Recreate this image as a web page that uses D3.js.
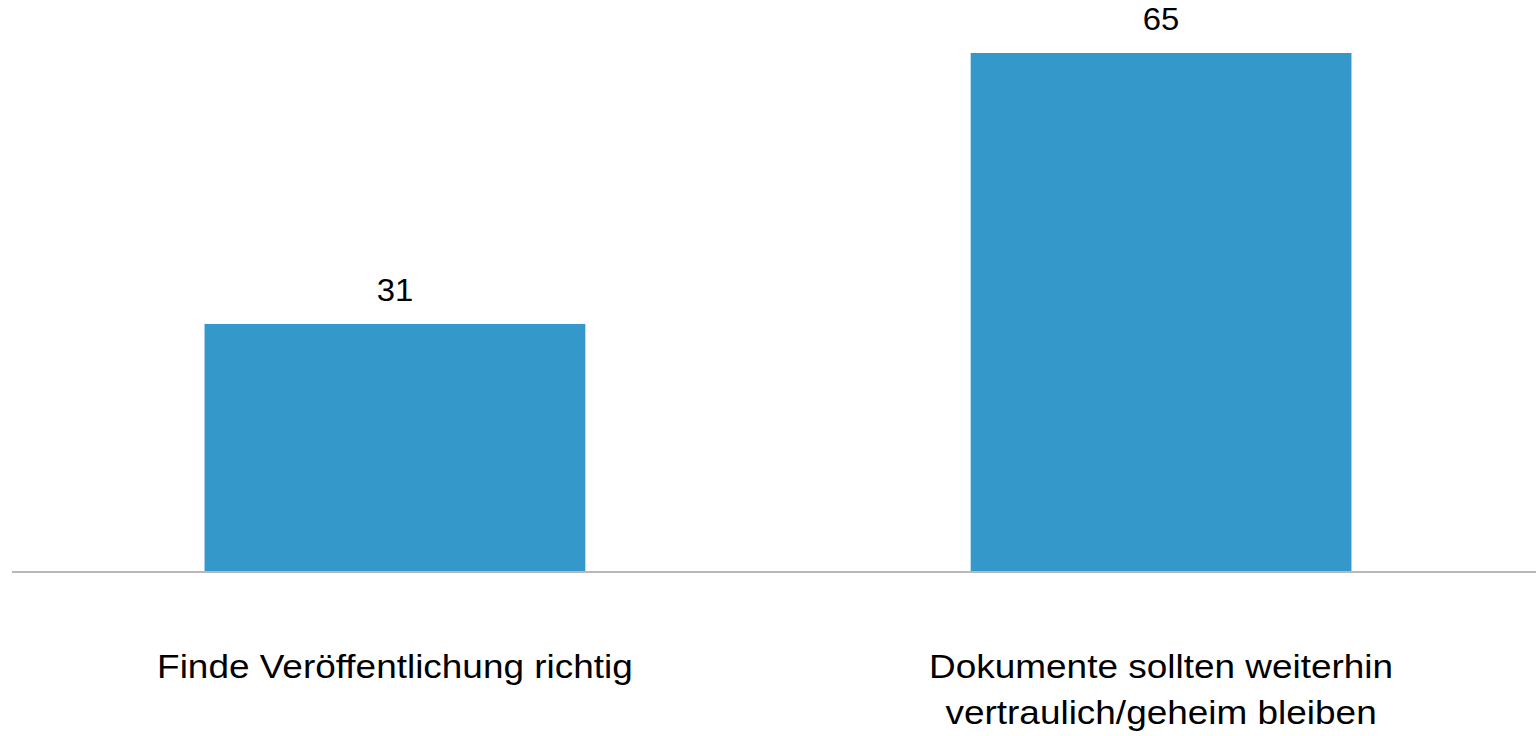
<!DOCTYPE html>
<html>
<head>
<meta charset="utf-8">
<script src="https://cdn.jsdelivr.net/npm/d3@7"></script>
<style>
  body { margin: 0; background: #fff; }
  text { font-family: "Liberation Sans", Arial, sans-serif; fill: #000; }
</style>
</head>
<body>
<svg id="chart"></svg>
<script>
// data
var categories = ["Finde Veröffentlichung richtig", "Dokumente sollten weiterhin vertraulich/geheim bleiben"];
var labelLines = [["Finde Veröffentlichung richtig"], ["Dokumente sollten weiterhin", "vertraulich/geheim bleiben"]];
var values = [31, 65];

var width = 1536, height = 736;
var baseY = 571;

var svg = d3.select("#chart")
  .attr("width", width)
  .attr("height", height);

var xScale = d3.scaleBand()
  .domain(categories)
  .range([13, 1543])
  .paddingInner(0.503)
  .paddingOuter(0.25);

var yScale = d3.scaleLinear()
  .domain([0, 65])
  .range([baseY, 53]);

var center = function(i) { return xScale(categories[i]) + xScale.bandwidth() / 2; };

// bars
svg.selectAll("rect.bar")
  .data(values)
  .enter()
  .append("rect")
  .attr("class", "bar")
  .attr("x", function(d, i) { return xScale(categories[i]); })
  .attr("y", function(d) { return yScale(d); })
  .attr("width", xScale.bandwidth())
  .attr("height", function(d) { return baseY - yScale(d); })
  .attr("fill", "#3498cb");

// value labels (text in the original looks a bit wider)
svg.selectAll("text.value")
  .data(values)
  .enter()
  .append("text")
  .attr("class", "value")
  .attr("transform", function(d, i) { return "translate(" + center(i) + "," + (yScale(d) - 23) + ") scale(1.06,1)"; })
  .attr("text-anchor", "middle")
  .style("font-size", "31px")
  .text(function(d) { return d; });

// baseline
svg.append("line")
  .attr("x1", 12)
  .attr("x2", width)
  .attr("y1", baseY + 1)
  .attr("y2", baseY + 1)
  .attr("stroke", "#b8b8b8")
  .attr("stroke-width", 2);

// category labels
var cats = svg.selectAll("text.cat")
  .data(labelLines)
  .enter()
  .append("text")
  .attr("class", "cat")
  .attr("transform", function(d, i) { return "translate(" + center(i) + ",0) scale(1.12,1)"; })
  .attr("text-anchor", "middle")
  .style("font-size", "33px");

cats.selectAll("tspan")
  .data(function(d) { return d; })
  .enter()
  .append("tspan")
  .attr("x", 0)
  .attr("y", function(d, j) { return 678 + j * 46; })
  .text(function(d) { return d; });
</script>
</body>
</html>
